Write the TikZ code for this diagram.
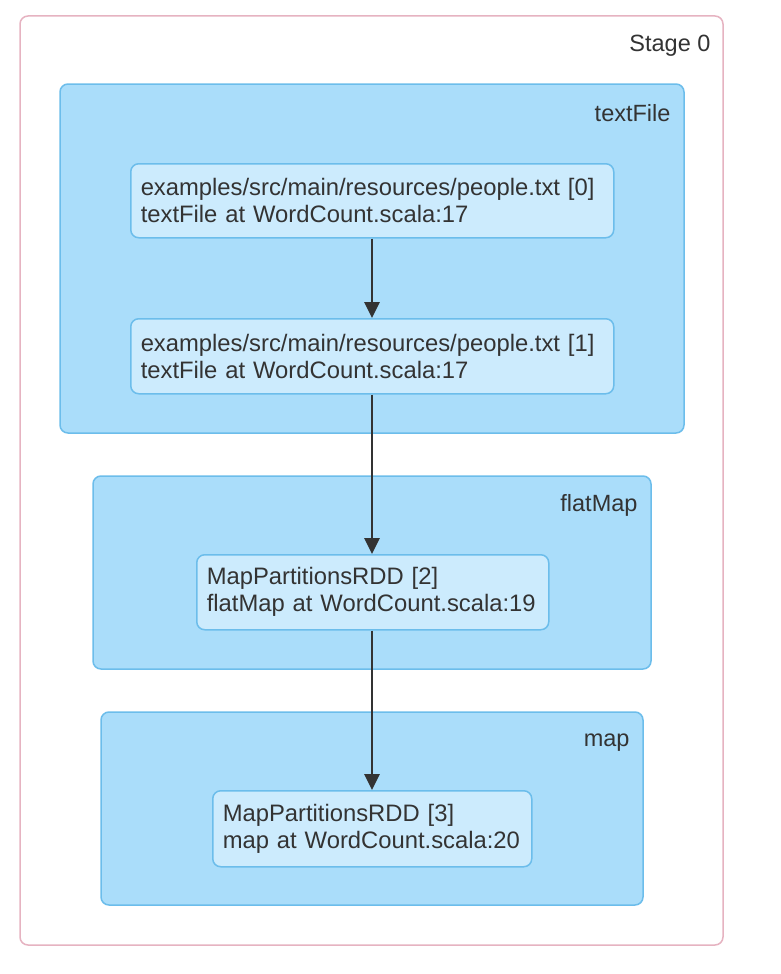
\documentclass[tikz,border=0pt]{standalone}
\usepackage{fontspec}
\setmainfont{Liberation Sans}
\usetikzlibrary{arrows.meta}
\definecolor{stageborder}{HTML}{E6B3C1}
\definecolor{clusterfill}{HTML}{AADDFA}
\definecolor{clusterborder}{HTML}{6CBDEB}
\definecolor{nodefill}{HTML}{CCEBFD}
\definecolor{txt}{HTML}{333333}
\tikzset{
  stagebox/.style={draw=stageborder, line width=1.5pt, fill=white, rounded corners=8pt},
  clusterbox/.style={draw=clusterborder, line width=1.5pt, fill=clusterfill, rounded corners=8pt},
  rddbox/.style={draw=clusterborder, line width=1.5pt, fill=nodefill, rounded corners=8pt,
    anchor=north west, align=left, inner xsep=10pt, inner ysep=0pt, text=txt,
    font=\fontsize{23.8}{27}\selectfont},
  lbl/.style={anchor=east, text=txt, font=\fontsize{23.5}{27}\selectfont},
  edge/.style={draw=txt, line width=2.8pt, -{Triangle[length=16pt,width=15pt]}}
}
\begin{document}
\begin{tikzpicture}[x=1pt,y=-1pt]
\useasboundingbox (0,0) rectangle (780,974);
% stage
\draw[stagebox] (20,16) rectangle (723,945);
\node[lbl] (stagelbl) at (714,46) {Stage 0};
% clusters
\draw[clusterbox] (60,84) rectangle (684,433);
\node[lbl] (tflbl) at (674,113) {textFile};
\draw[clusterbox] (93,476) rectangle (651,669);
\node[lbl] (fmlbl) at (641,505) {flatMap};
\draw[clusterbox] (101,712) rectangle (643,905);
\node[lbl] (maplbl) at (633,743) {map};
% rdd nodes
\node[rddbox, minimum width=483pt, minimum height=74pt, text width=463pt] (n0) at (130,163)
  {\mbox{examples/src/main/resources/people.txt [0]}\\\mbox{textFile at WordCount.scala:17}};
\node[rddbox, minimum width=483pt, minimum height=75pt, text width=463pt] (n1) at (130,318)
  {\mbox{examples/src/main/resources/people.txt [1]}\\\mbox{textFile at WordCount.scala:17}};
\node[rddbox, minimum width=352pt, minimum height=75pt, text width=332pt] (n2) at (196,554)
  {\mbox{MapPartitionsRDD [2]}\\\mbox{flatMap at WordCount.scala:19}};
\node[rddbox, minimum width=319pt, minimum height=76pt, text width=299pt] (n3) at (212,790)
  {\mbox{MapPartitionsRDD [3]}\\\mbox{map at WordCount.scala:20}};
% edges
\draw[edge] (n0.south -| 372,0) -- (n1.north -| 372,0);
\draw[edge] (n1.south -| 372,0) -- (n2.north -| 372,0);
\draw[edge] (n2.south -| 372,0) -- (n3.north -| 372,0);
\end{tikzpicture}
\end{document}
